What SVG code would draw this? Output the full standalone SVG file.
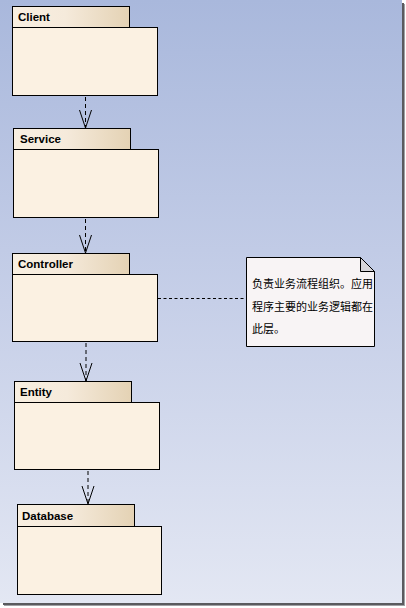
<svg xmlns="http://www.w3.org/2000/svg" width="406" height="608" viewBox="0 0 406 608">
<defs>
<linearGradient id="bg" x1="0" y1="0" x2="0" y2="1">
<stop offset="0" stop-color="#a9b8dc"/>
<stop offset="0.5" stop-color="#c6cfe8"/>
<stop offset="1" stop-color="#e3e7f3"/>
</linearGradient>
<linearGradient id="tab" x1="0" y1="0" x2="1" y2="0">
<stop offset="0" stop-color="#f8efe1"/>
<stop offset="0.45" stop-color="#f5eadb"/>
<stop offset="1" stop-color="#e4d2b4"/>
</linearGradient>
<marker id="open" viewBox="0 0 20 14" refX="19" refY="7" markerWidth="20" markerHeight="14" markerUnits="userSpaceOnUse" orient="auto">
<path d="M1,1 L19,7 L1,13" fill="none" stroke="#000" stroke-width="1"/>
</marker>
</defs>
<style>
.tab{fill:url(#tab);stroke:#000;stroke-width:1}
.body{fill:#fbf1e2;stroke:#000;stroke-width:1}
.lbl{font-family:"Liberation Sans",Arial,sans-serif;font-weight:bold;font-size:11.5px;fill:#000}
.dep{fill:none;stroke:#000;stroke-width:1;stroke-dasharray:4 3}
.note{fill:#f8f4f5;stroke:#000;stroke-width:1}
.ntxt{font-family:"Noto Sans CJK SC","Noto Sans",sans-serif;font-size:11px;fill:#000}
</style>
<rect x="0" y="0" width="406" height="608" fill="#ffffff"/>
<rect x="402" y="3" width="2" height="602" fill="#5a5a5e"/>
<rect x="404" y="4" width="1" height="602" fill="#a0a0a4"/>
<rect x="3" y="603" width="401" height="2" fill="#5a5a5e"/>
<rect x="4" y="605" width="401" height="1" fill="#a0a0a4"/>
<rect x="0" y="0" width="402" height="603" fill="url(#bg)"/>

<g id="connectors">
<line class="dep" x1="85.5" y1="97" x2="85.5" y2="128" marker-end="url(#open)"/>
<line class="dep" x1="85.5" y1="219" x2="85.5" y2="253" marker-end="url(#open)"/>
<line class="dep" x1="86" y1="343" x2="86" y2="381" marker-end="url(#open)"/>
<line class="dep" x1="88" y1="471" x2="88" y2="504" marker-end="url(#open)"/>
<line x1="158" y1="298.5" x2="246" y2="298.5" stroke="#000" stroke-width="1" stroke-dasharray="3 2.5"/>
</g>

<g id="client">
<rect class="tab" x="12.5" y="6.5" width="117" height="21"/>
<rect class="body" x="12.5" y="27.5" width="145" height="68"/>
<text class="lbl" x="18" y="21">Client</text>
</g>

<g id="service">
<rect class="tab" x="13.5" y="128.5" width="117" height="21"/>
<rect class="body" x="13.5" y="149.5" width="145" height="68"/>
<text class="lbl" x="20" y="142.5">Service</text>
</g>

<g id="controller">
<rect class="tab" x="12.5" y="253.5" width="117" height="21"/>
<rect class="body" x="12.5" y="274.5" width="145" height="67"/>
<text class="lbl" x="18" y="267.5">Controller</text>
</g>

<g id="entity">
<rect class="tab" x="14.5" y="381.5" width="117" height="21"/>
<rect class="body" x="14.5" y="402.5" width="145" height="67"/>
<text class="lbl" x="20" y="395.5">Entity</text>
</g>

<g id="database">
<rect class="tab" x="17.5" y="504.5" width="117" height="22"/>
<rect class="body" x="17.5" y="526.5" width="144" height="68"/>
<text class="lbl" x="22" y="519.5">Database</text>
</g>

<g id="note">
<path class="note" d="M246.5,257.5 H360.5 L374.5,271.5 V346.5 H246.5 Z"/>
<path d="M360.5,257.5 V271.5 H374.5 Z" fill="#d8d6da" stroke="#000" stroke-width="1"/>
<text class="ntxt" x="252" y="288">负责业务流程组织。应用</text>
<text class="ntxt" x="252" y="310.5">程序主要的业务逻辑都在</text>
<text class="ntxt" x="252" y="333">此层。</text>
</g>
</svg>
